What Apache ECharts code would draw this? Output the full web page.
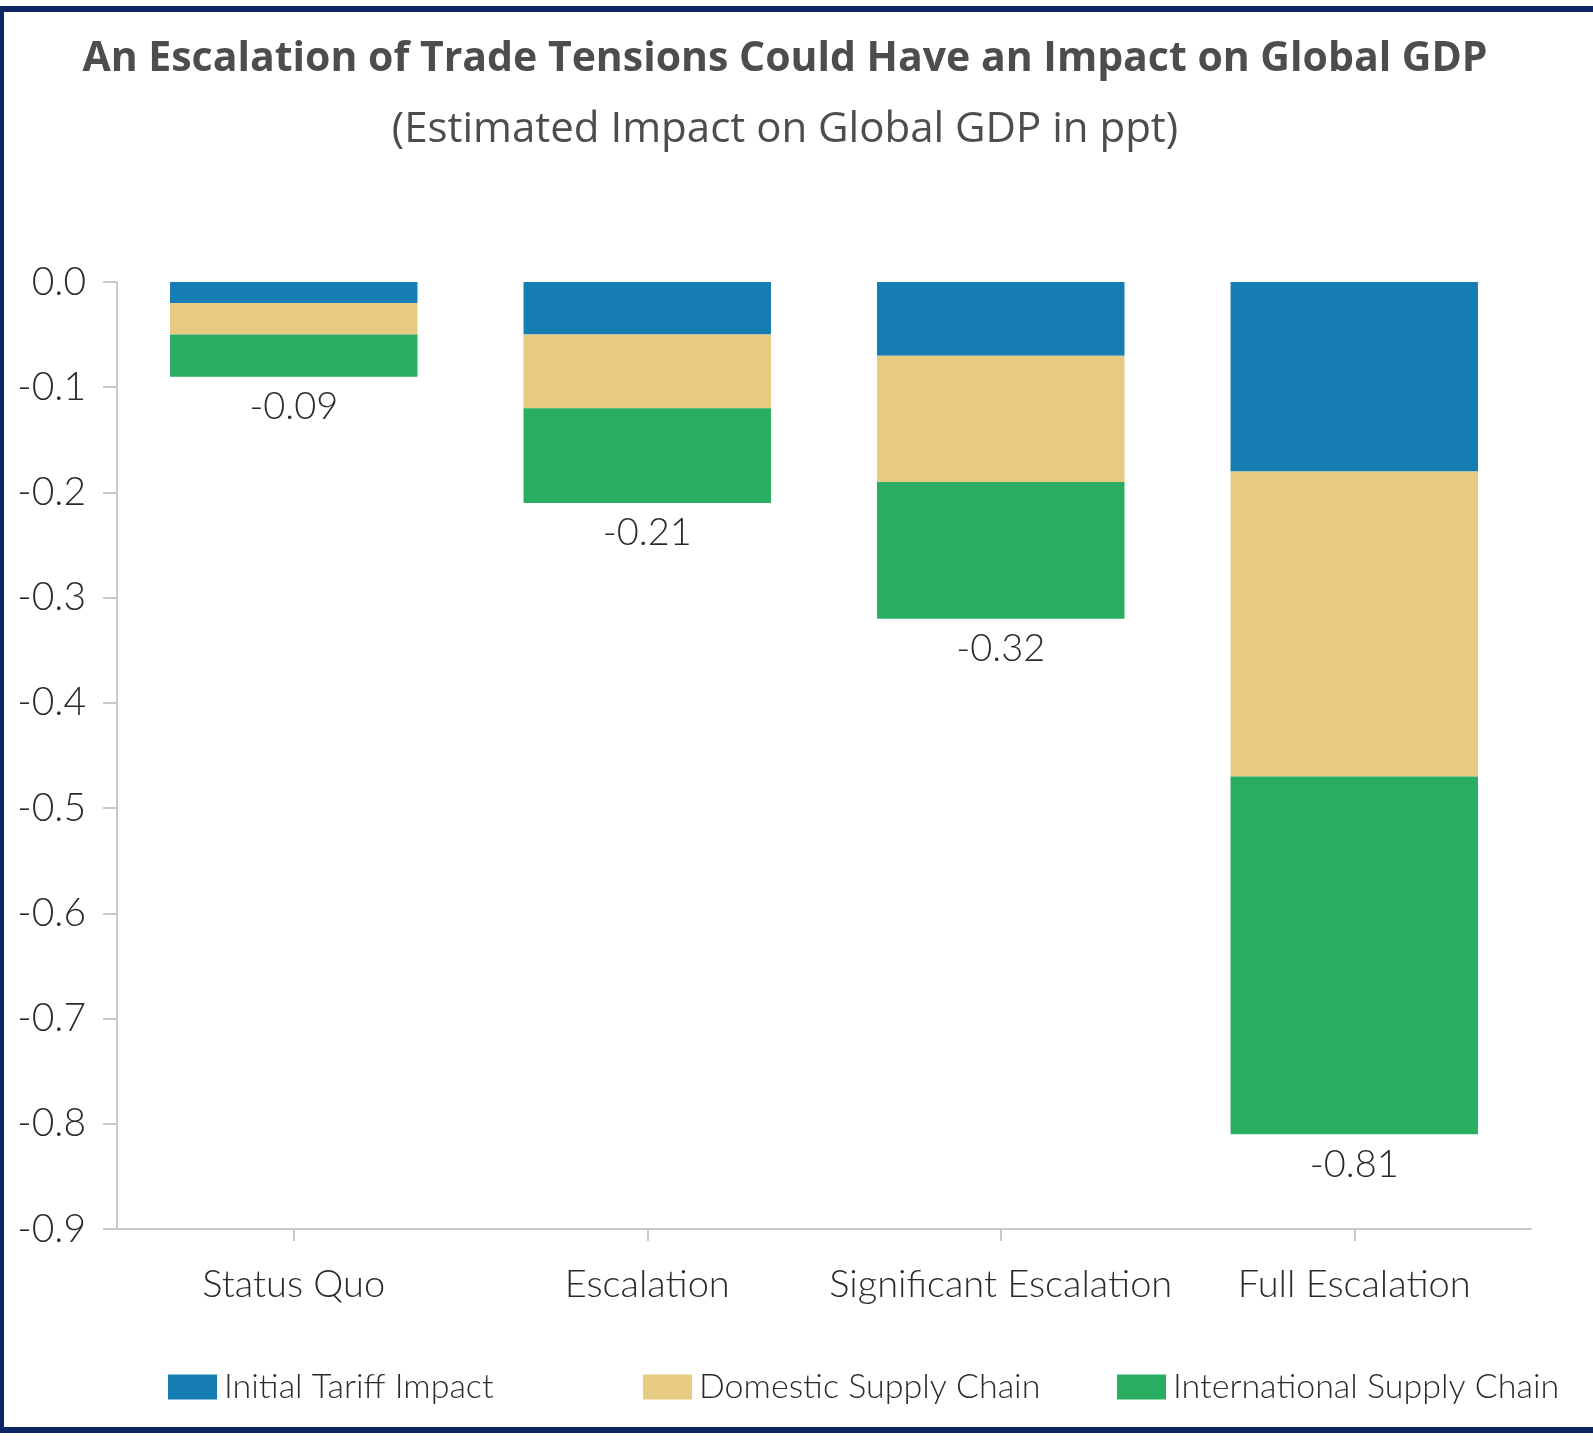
<!DOCTYPE html>
<html>
<head>
<meta charset="utf-8">
<script src="https://cdn.jsdelivr.net/npm/echarts@6/dist/echarts.min.js"></script>
<style>
  html, body { margin: 0; padding: 0; background: #ffffff; }
  #wrap { position: relative; width: 1593px; height: 1440px; background: #fff; }
  #chart { position: absolute; left: 0; top: 0; width: 1593px; height: 1440px; }
  .b { position: absolute; background: #0b2663; }
</style>
</head>
<body>
<div id="wrap">
  <div id="chart"></div>
  <div class="b" style="left:0;top:6px;width:1593px;height:6px;"></div>
  <div class="b" style="left:0;top:6px;width:4px;height:1427px;"></div>
  <div class="b" style="left:0;top:1427px;width:1593px;height:6px;"></div>
</div>
<script>
const categories = ['Status Quo', 'Escalation', 'Significant Escalation', 'Full Escalation'];
const initialTariff = [-0.02, -0.05, -0.07, -0.18];
const domesticSupply = [-0.03, -0.07, -0.12, -0.29];
const internationalSupply = [-0.04, -0.09, -0.13, -0.34];
const totals = [-0.09, -0.21, -0.32, -0.81];
const seriesNames = ['Initial Tariff Impact', 'Domestic Supply Chain', 'International Supply Chain'];

const FONT = 'Lato';
const chart = echarts.init(document.getElementById('chart'), null, { renderer: 'canvas' });

const legendBase = (name, left) => ({
  data: [name],
  left: left,
  top: 1365,
  itemWidth: 49,
  itemHeight: 25,
  itemGap: 10,
  icon: 'rect',
  textStyle: { fontFamily: FONT, fontWeight: 300, fontSize: 34, color: '#2b2b2b', padding: [0, 0, 0, 2] }
});

chart.setOption({
  animation: false,
  backgroundColor: '#ffffff',
  title: {
    text: 'An Escalation of Trade Tensions Could Have an Impact on Global GDP',
    subtext: '(Estimated Impact on Global GDP in ppt)',
    left: 780,
    textAlign: 'center',
    top: 32,
    itemGap: 27,
    textStyle: { fontFamily: 'Open Sans', fontWeight: 700, fontSize: 41, lineHeight: 44, color: '#4d4d4d' },
    subtextStyle: { fontFamily: 'Open Sans', fontWeight: 400, fontSize: 42, lineHeight: 44, color: '#4d4d4d' }
  },
  legend: [
    legendBase(seriesNames[0], 163),
    legendBase(seriesNames[1], 638),
    legendBase(seriesNames[2], 1112)
  ],
  grid: { left: 117, right: 62, top: 282, bottom: 211, containLabel: false },
  xAxis: {
    type: 'category',
    data: categories,
    position: 'bottom',
    axisLine: { onZero: false, lineStyle: { color: '#c8c8c8', width: 2 } },
    axisTick: { show: true, length: 12, alignWithLabel: true, lineStyle: { color: '#c8c8c8', width: 2 } },
    axisLabel: { interval: 0, fontFamily: FONT, fontWeight: 300, fontSize: 38, color: '#2b2b2b', margin: 37 }
  },
  yAxis: {
    type: 'value',
    min: -0.9,
    max: 0,
    interval: 0.1,
    axisLine: { show: true, lineStyle: { color: '#c8c8c8', width: 2 } },
    axisTick: { show: true, length: 14, lineStyle: { color: '#c8c8c8', width: 2 } },
    splitLine: { show: false },
    axisLabel: {
      fontFamily: FONT, fontWeight: 300, fontSize: 39, color: '#2b2b2b', margin: 31,
      formatter: v => (Math.abs(v) < 1e-9 ? 0 : v).toFixed(1)
    }
  },
  series: [
    {
      name: seriesNames[0], type: 'bar', stack: 'total', data: initialTariff,
      barWidth: '70%', itemStyle: { color: '#157db1' }
    },
    {
      name: seriesNames[1], type: 'bar', stack: 'total', data: domesticSupply,
      barWidth: '70%', itemStyle: { color: '#e8cb82' }
    },
    {
      name: seriesNames[2], type: 'bar', stack: 'total', data: internationalSupply,
      barWidth: '70%', itemStyle: { color: '#29ae61' },
      label: {
        show: true, position: 'bottom', distance: 11,
        fontFamily: FONT, fontWeight: 300, fontSize: 38, color: '#2b2b2b',
        formatter: p => totals[p.dataIndex].toFixed(2)
      }
    }
  ]
});
</script>
</body>
</html>
